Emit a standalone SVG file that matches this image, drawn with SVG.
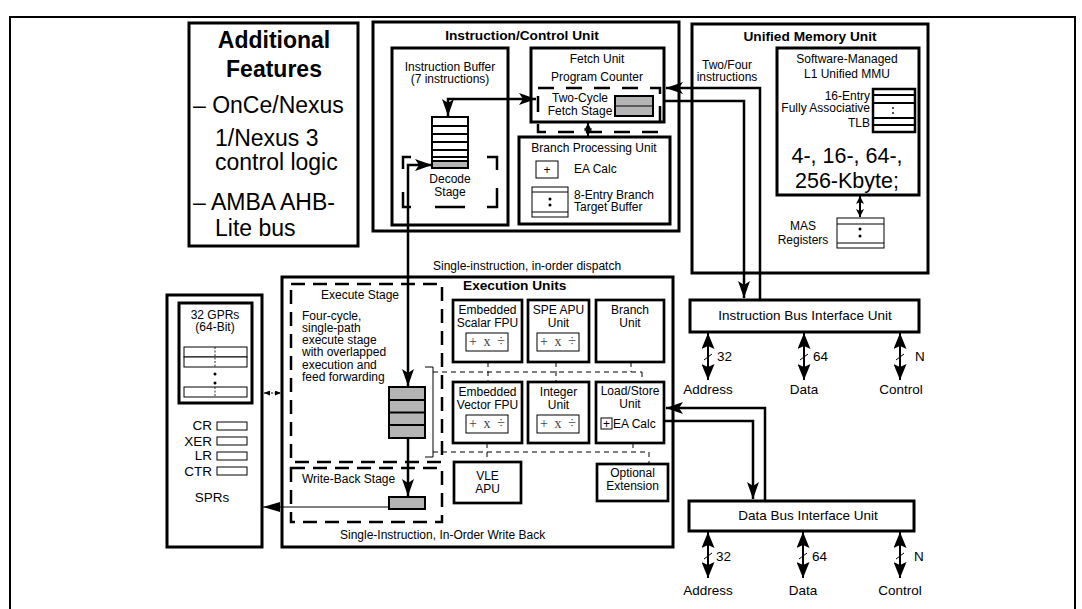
<svg xmlns="http://www.w3.org/2000/svg" width="1082" height="609" viewBox="0 0 1082 609">
<defs>
<style>
.t{font-family:"Liberation Sans",Arial,sans-serif;font-size:12px;fill:#000}
.c{text-anchor:middle}
.e{text-anchor:end}
.b{font-weight:bold;font-size:13.7px}
.m{font-size:13.5px}
.big{font-size:23px}
.kb{font-size:21.5px}
.ops{font-family:"Liberation Serif","Times New Roman",serif;font-size:14px;fill:#444;text-anchor:middle}
.bx{fill:#fff;stroke:#000;stroke-width:3}
.sb{fill:#fff;stroke:#000;stroke-width:2.7}
.thin{fill:#fff;stroke:#000;stroke-width:1}
.gray{fill:#b4b4b4;stroke:#000;stroke-width:2}
.dsh{fill:none;stroke:#000;stroke-width:2.5;stroke-dasharray:14 8}
.dsh2{fill:none;stroke:#000;stroke-width:2.5;stroke-dasharray:16 12}
.cn{fill:none;stroke:#000;stroke-width:2.5}
.ln{fill:none;stroke:#000;stroke-width:1}
.ln2{fill:none;stroke:#000;stroke-width:2}
.dl{fill:none;stroke:#000;stroke-width:1;stroke-dasharray:5 4}
</style>
<marker id="ah" viewBox="0 0 17 12" refX="17" refY="6" markerWidth="17" markerHeight="12" markerUnits="userSpaceOnUse" orient="auto-start-reverse"><path d="M0,0 L17,6 L0,12 L4,6 Z"/></marker>
<marker id="ah2" viewBox="0 0 17 10" refX="17" refY="5" markerWidth="17" markerHeight="10" markerUnits="userSpaceOnUse" orient="auto"><path d="M0,0 L17,5 L0,10 Z"/></marker>
<marker id="bh" viewBox="0 0 16 13" refX="16" refY="6.5" markerWidth="16" markerHeight="13" markerUnits="userSpaceOnUse" orient="auto-start-reverse"><path d="M0,0 L16,6.5 L0,13 L3,6.5 Z"/></marker>
<marker id="sh" viewBox="0 0 8 8" refX="8" refY="4" markerWidth="8" markerHeight="8" markerUnits="userSpaceOnUse" orient="auto-start-reverse"><path d="M0,0 L8,4 L0,8 L2,4 Z"/></marker>
<marker id="th" viewBox="0 0 6 5" refX="6" refY="2.5" markerWidth="6" markerHeight="5" markerUnits="userSpaceOnUse" orient="auto-start-reverse"><path d="M0,0 L6,2.5 L0,5 Z"/></marker>
</defs>
<rect x="0" y="0" width="1082" height="609" fill="#fff"/>
<path d="M10,609 V17 H1075 V609" fill="none" stroke="#000" stroke-width="2"/>

<g id="additional-features">
<rect class="bx" x="189" y="23" width="169" height="223"/>
<text class="t b big c" x="274" y="48">Additional<tspan x="274" y="77">Features</tspan></text>
<text class="t big" x="193" y="113">– OnCe/Nexus<tspan x="215" y="146">1/Nexus 3</tspan><tspan x="215" y="170">control logic</tspan></text>
<text class="t big" x="193" y="210">– AMBA AHB-<tspan x="215" y="236">Lite bus</tspan></text>
</g>

<g id="instruction-control-unit">
<rect class="bx" x="373" y="22" width="306" height="209"/>
<text class="t b c" x="522" y="40">Instruction/Control Unit</text>
<g id="instruction-buffer">
<rect class="bx" x="392" y="48" width="116" height="177"/>
<text class="t c" x="450" y="71">Instruction Buffer<tspan x="450" y="83">(7 instructions)</tspan></text>
<rect x="432" y="117" width="36" height="51" fill="#fff" stroke="#000" stroke-width="2"/>
<path class="ln2" d="M432,126 H468 M432,134 H468 M432,142 H468 M432,150 H468 M432,157 H468"/>
<rect class="gray" x="432" y="161" width="36" height="7"/>
<path class="cn" d="M411,157 H403 V169 M403,192 V207 H411 M487,157 H497 V170 M497,188 V207 H487 M435,207 H465"/>
<text class="t c" x="450" y="183">Decode<tspan x="450" y="196">Stage</tspan></text>
</g>
<g id="fetch-unit">
<rect class="bx" x="531" y="48" width="133" height="74"/>
<text class="t c" x="597" y="63">Fetch Unit</text>
<text class="t c" x="597" y="81">Program Counter</text>
<rect class="dsh2" x="538" y="88" width="122" height="44"/>
<text class="t c" x="580" y="102">Two-Cycle<tspan x="580" y="115">Fetch Stage</tspan></text>
<rect class="gray" x="615" y="96" width="38" height="20" stroke-width="1"/>
<path class="ln" d="M615,106 H653"/>
</g>
<g id="branch-processing-unit">
<rect class="bx" x="519" y="137" width="151" height="87"/>
<text class="t c" x="594" y="152">Branch Processing Unit</text>
<rect class="thin" x="536" y="161" width="22" height="17"/>
<text class="t c" x="547" y="174" fill="#444">+</text>
<text class="t" x="574" y="173">EA Calc</text>
<rect class="thin" x="532" y="187" width="36" height="30"/>
<path class="ln" d="M532,192 H568 M532,212 H568"/>
<circle cx="550" cy="199" r="1.5"/>
<circle cx="550" cy="205" r="1.5"/>
<text class="t" x="574" y="199">8-Entry Branch<tspan x="574" y="211">Target Buffer</tspan></text>
</g>
</g>

<g id="unified-memory-unit">
<rect class="bx" x="692" y="24" width="236" height="249"/>
<text class="t b c" x="810" y="41">Unified Memory Unit</text>
<g id="mmu">
<rect class="bx" x="777" y="48" width="142" height="147"/>
<text class="t c" x="847" y="63">Software-Managed<tspan x="847" y="78">L1 Unified MMU</tspan></text>
<rect x="873" y="89" width="42" height="43" fill="#fff" stroke="#000" stroke-width="2.5"/>
<path class="ln2" d="M873,95 H915 M873,103 H915 M873,118 H915 M873,125 H915"/>
<circle cx="893" cy="108" r="0.9"/>
<circle cx="893" cy="113" r="0.9"/>
<text class="t e" x="870" y="100">16-Entry<tspan x="870" y="112">Fully Associative</tspan><tspan x="870" y="127">TLB</tspan></text>
<text class="t kb c" x="847" y="163">4-, 16-, 64-,<tspan x="847" y="188">256-Kbyte;</tspan></text>
</g>
<g id="mas-registers">
<rect class="thin" x="837" y="218" width="47" height="30"/>
<path class="ln" d="M837,224 H884 M837,243 H884"/>
<circle cx="860" cy="229" r="1.5"/>
<circle cx="860" cy="236" r="1.5"/>
<text class="t c" x="803" y="230">MAS<tspan x="803" y="243.5">Registers</tspan></text>
</g>
</g>

<g id="gpr-spr">
<rect class="bx" x="167" y="295" width="95" height="252"/>
<rect class="bx" x="179" y="303" width="73" height="100"/>
<text class="t c" x="215" y="319">32 GPRs<tspan x="215" y="331">(64-Bit)</tspan></text>
<rect class="thin" x="184" y="347" width="63" height="10"/>
<rect class="thin" x="184" y="357" width="63" height="10"/>
<rect class="thin" x="184" y="387" width="63" height="10"/>
<path d="M215,347 V367 M215,387 V397" fill="none" stroke="#000" stroke-width="0.8" stroke-dasharray="2 1.5"/>
<circle cx="215" cy="374" r="1.5"/>
<circle cx="215" cy="383" r="1.5"/>
<text class="t e m" x="212" y="430">CR<tspan x="212" y="446">XER</tspan><tspan x="212" y="460">LR</tspan><tspan x="212" y="476">CTR</tspan></text>
<rect class="thin" x="217" y="422" width="30" height="8"/>
<rect class="thin" x="217" y="437" width="30" height="8"/>
<rect class="thin" x="217" y="452" width="30" height="8"/>
<rect class="thin" x="217" y="467" width="30" height="8"/>
<text class="t c m" x="212" y="502">SPRs</text>
</g>

<g id="execution-units">
<rect class="bx" x="282" y="277" width="391" height="270"/>
<text class="t b" x="463" y="290">Execution Units</text>
<g id="execute-stage">
<rect class="dsh" x="291" y="284" width="151" height="178"/>
<text class="t c" x="360" y="299">Execute Stage</text>
<text class="t" x="302" y="319.5">Four-cycle,<tspan x="302" y="331.8">single-path</tspan><tspan x="302" y="344.1">execute stage</tspan><tspan x="302" y="356.4">with overlapped</tspan><tspan x="302" y="368.7">execution and</tspan><tspan x="302" y="381">feed forwarding</tspan></text>
<rect class="gray" x="389" y="387" width="36" height="51" stroke-width="2.5"/>
<path class="ln2" d="M389,400 H425 M389,412.5 H425 M389,425 H425"/>
</g>
<g id="write-back-stage">
<rect class="dsh" x="291" y="468" width="151" height="54"/>
<text class="t" x="302" y="483">Write-Back Stage</text>
<rect class="gray" x="389" y="497" width="36" height="12"/>
</g>
<g id="scalar-fpu">
<rect class="sb" x="453" y="300" width="69" height="62"/>
<text class="t c" x="487.5" y="314">Embedded<tspan x="487.5" y="327">Scalar FPU</tspan></text>
<rect class="thin" x="466" y="333" width="42" height="18"/>
<text class="ops" x="473 487 501" y="346">+x÷</text>
</g>
<g id="spe-apu">
<rect class="sb" x="528" y="300" width="61" height="62"/>
<text class="t c" x="558.5" y="314">SPE APU<tspan x="558.5" y="327">Unit</tspan></text>
<rect class="thin" x="537" y="333" width="42" height="18"/>
<text class="ops" x="544 558 572" y="346">+x÷</text>
</g>
<g id="branch-unit">
<rect class="sb" x="596" y="300" width="68" height="62"/>
<text class="t c" x="630" y="314">Branch<tspan x="630" y="327">Unit</tspan></text>
</g>
<g id="vector-fpu">
<rect class="sb" x="453" y="382" width="69" height="61"/>
<text class="t c" x="487.5" y="396">Embedded<tspan x="487.5" y="409">Vector FPU</tspan></text>
<rect class="thin" x="466" y="415" width="42" height="18"/>
<text class="ops" x="473 487 501" y="428">+x÷</text>
</g>
<g id="integer-unit">
<rect class="sb" x="528" y="382" width="61" height="61"/>
<text class="t c" x="558.5" y="396">Integer<tspan x="558.5" y="409">Unit</tspan></text>
<rect class="thin" x="537" y="415" width="42" height="18"/>
<text class="ops" x="544 558 572" y="428">+x÷</text>
</g>
<g id="load-store-unit">
<rect class="sb" x="596" y="382" width="68" height="61"/>
<text class="t c" x="630" y="395">Load/Store<tspan x="630" y="408">Unit</tspan></text>
<rect class="thin" x="601" y="418" width="11" height="11"/>
<text class="t c" x="606.5" y="428" fill="#444">+</text>
<text class="t" x="613" y="428">EA Calc</text>
</g>
<g id="vle-apu">
<rect class="sb" x="454" y="462" width="67" height="41"/>
<text class="t c" x="487.5" y="480">VLE<tspan x="487.5" y="493">APU</tspan></text>
</g>
<g id="optional-extension">
<rect class="sb" x="597" y="464" width="71" height="37"/>
<text class="t c" x="632.5" y="477">Optional<tspan x="632.5" y="490">Extension</tspan></text>
</g>
<path class="ln" d="M425,367 H433 V457 H425"/>
<path class="dl" d="M433,372 H642 M488,362 V382 M556,362 V382 M631,362 V372 M642,372 V382"/>
<path class="dl" d="M433,452 H649 M487,443 V462 M633,443 V452 M649,452 V464"/>
</g>

<g id="instruction-biu">
<rect class="bx" x="690" y="300" width="229" height="32"/>
<text class="t m c" x="805" y="320">Instruction Bus Interface Unit</text>
</g>
<g id="data-biu">
<rect class="bx" x="689" y="501" width="225" height="30"/>
<text class="t m c" x="808" y="520">Data Bus Interface Unit</text>
</g>

<g id="connectors">
<path class="cn" d="M664,101 H744 V298" marker-end="url(#ah)"/>
<path class="cn" d="M760,299 V88 H666" marker-end="url(#ah)"/>
<text class="t c" x="727" y="69">Two/Four<tspan x="727" y="81">instructions</tspan></text>
<path class="cn" d="M448,116 V99 H536" marker-start="url(#ah)" marker-end="url(#ah)"/>
<path class="ln2" d="M588,123 V136" marker-start="url(#sh)" marker-end="url(#sh)"/>
<path class="cn" d="M432,165 H408 V386" marker-start="url(#ah)" marker-end="url(#ah)"/>
<path class="cn" d="M408,438 V496" marker-end="url(#ah)"/>
<path class="ln" d="M389,507 H263" marker-end="url(#ah2)"/>
<path d="M264,393 H281" fill="none" stroke="#000" stroke-width="1" stroke-dasharray="2 1.5" marker-start="url(#th)" marker-end="url(#th)"/>
<path class="cn" d="M664,421 H753 V499" marker-end="url(#ah)"/>
<path class="cn" d="M765,500 V408 H666" marker-end="url(#ah)"/>
<path class="ln2" d="M860,196 V217" marker-start="url(#sh)" marker-end="url(#sh)"/>
<g id="ibiu-buses">
<path class="ln2" d="M708,333 V380" marker-start="url(#bh)" marker-end="url(#bh)"/>
<path class="ln2" d="M804,333 V380" marker-start="url(#bh)" marker-end="url(#bh)"/>
<path class="ln2" d="M900,333 V380" marker-start="url(#bh)" marker-end="url(#bh)"/>
<path class="ln" d="M704,360 L712,354 M800,360 L808,354 M896,360 L904,354"/>
<text class="t m" x="717" y="361">32</text>
<text class="t m" x="813" y="361">64</text>
<text class="t m" x="915" y="361">N</text>
<text class="t m c" x="708" y="394">Address</text>
<text class="t m c" x="804" y="394">Data</text>
<text class="t m c" x="901" y="394">Control</text>
</g>
<g id="dbiu-buses">
<path class="ln2" d="M708,532 V578" marker-start="url(#bh)" marker-end="url(#bh)"/>
<path class="ln2" d="M803,532 V578" marker-start="url(#bh)" marker-end="url(#bh)"/>
<path class="ln2" d="M900,532 V578" marker-start="url(#bh)" marker-end="url(#bh)"/>
<path class="ln" d="M704,559 L712,553 M799,559 L807,553 M896,559 L904,553"/>
<text class="t m" x="716" y="561">32</text>
<text class="t m" x="812" y="561">64</text>
<text class="t m" x="914" y="561">N</text>
<text class="t m c" x="708" y="595">Address</text>
<text class="t m c" x="803" y="595">Data</text>
<text class="t m c" x="900" y="595">Control</text>
</g>
<text class="t" x="433" y="270">Single-instruction, in-order dispatch</text>
<text class="t" x="340" y="539">Single-Instruction, In-Order Write Back</text>
</g>
</svg>
